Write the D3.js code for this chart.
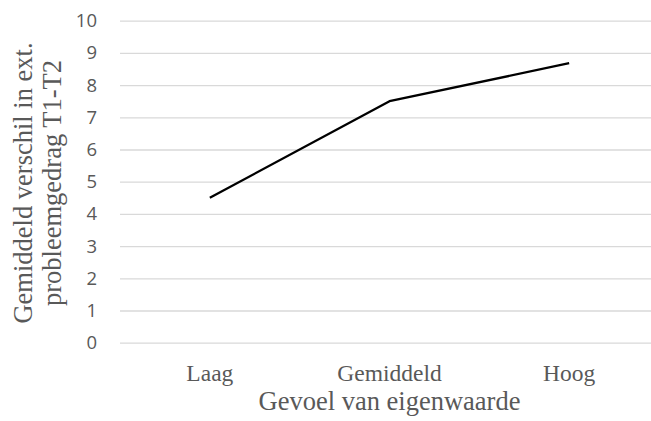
<!DOCTYPE html>
<html>
<head>
<meta charset="utf-8">
<script src="https://cdn.jsdelivr.net/npm/d3@7"></script>
<style>
  html, body { margin: 0; padding: 0; background: #fff; }
  svg { display: block; }
</style>
</head>
<body>
<svg id="chart" width="651" height="421"></svg>
<script>
const categories = ["Laag", "Gemiddeld", "Hoog"];
const values = [4.5, 7.5, 8.68];
const yTicks = [0, 1, 2, 3, 4, 5, 6, 7, 8, 9, 10];
const xTitle = "Gevoel van eigenwaarde";
const yTitleLines = ["Gemiddeld verschil in ext.", "probleemgedrag T1-T2"];

const svg = d3.select("#chart");
const W = 651, H = 421;
const plot = { left: 120, right: 659, top: 20.7, bottom: 342.7 };

const x = d3.scaleBand().domain(categories).range([plot.left, plot.right]).padding(0);
const y = d3.scaleLinear().domain([0, 10]).range([plot.bottom, plot.top]);

const textColor = "#595959";

// gridlines + y tick labels
const yAxis = d3.axisLeft(y).tickValues(yTicks).tickSize(-(plot.right - plot.left)).tickPadding(23).tickFormat(d3.format("d"));
const gy = svg.append("g").attr("transform", `translate(${plot.left},0)`).call(yAxis);
gy.select(".domain").remove();
gy.selectAll(".tick line").attr("stroke", "#d9d9d9").attr("stroke-width", 1.3);
gy.selectAll(".tick text")
  .attr("fill", textColor)
  .style("font-family", "'Open Sans', sans-serif")
  .style("font-size", "18.5px");

// x axis labels
const xAxis = d3.axisBottom(x).tickSize(0).tickPadding(0);
const gx = svg.append("g").attr("transform", `translate(0,${plot.bottom})`).call(xAxis);
gx.select(".domain").remove();
gx.selectAll(".tick text")
  .attr("fill", textColor)
  .attr("dy", null)
  .attr("y", 38)
  .style("font-family", "'Liberation Serif', 'Times New Roman', serif")
  .style("font-size", "23.5px");

// line
const line = d3.line()
  .x((d, i) => x(categories[i]) + x.bandwidth() / 2)
  .y(d => y(d));
svg.append("path")
  .datum(values)
  .attr("d", line)
  .attr("fill", "none")
  .attr("stroke", "#000")
  .attr("stroke-width", 2.3)
  .attr("stroke-linejoin", "round");

// x title
svg.append("text")
  .attr("x", (plot.left + plot.right) / 2)
  .attr("y", 410)
  .attr("text-anchor", "middle")
  .attr("fill", textColor)
  .style("font-family", "'Liberation Serif', 'Times New Roman', serif")
  .style("font-size", "26.5px")
  .text(xTitle);

// y title (two lines)
const yt = svg.append("text")
  .attr("transform", "translate(0,183) rotate(-90)")
  .attr("text-anchor", "middle")
  .attr("fill", textColor)
  .style("font-family", "'Liberation Serif', 'Times New Roman', serif")
  .style("font-size", "26.5px");
yt.selectAll("tspan").data(yTitleLines).join("tspan")
  .attr("x", 0)
  .attr("y", (d, i) => 32 + i * 29)
  .text(d => d);
</script>
</body>
</html>
